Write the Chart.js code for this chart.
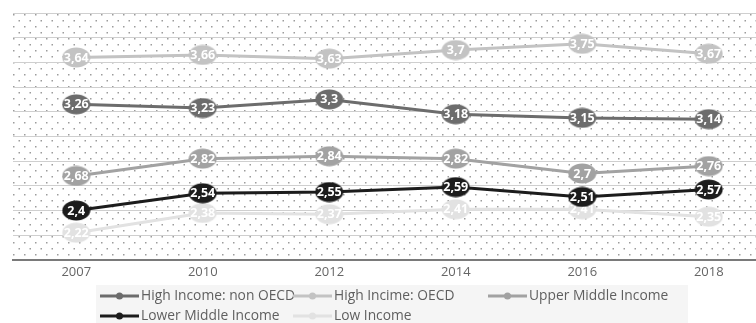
<!DOCTYPE html>
<html>
<head>
<meta charset="utf-8">
<script src="https://cdn.jsdelivr.net/npm/chart.js@4/dist/chart.umd.min.js"></script>
<style>
  html, body { margin: 0; padding: 0; background: #fff; overflow: hidden; }
  #wrap { width: 756px; height: 323px; overflow: hidden; position: relative; }
  canvas { display: block; width: 772px; height: 323px; }
</style>
</head>
<body>
<div id="wrap"><canvas id="c" width="772" height="323"></canvas></div>
<script>
// Survey years on the category axis
const years = ['2007', '2010', '2012', '2014', '2016', '2018'];

// Scores per income group
const highNonOecd = [3.26, 3.23, 3.3, 3.18, 3.15, 3.14];
const highOecd    = [3.64, 3.66, 3.63, 3.7, 3.75, 3.67];
const upperMiddle = [2.68, 2.82, 2.84, 2.82, 2.7, 2.76];
const lowerMiddle = [2.4, 2.54, 2.55, 2.59, 2.51, 2.57];
const lowIncome   = [2.22, 2.38, 2.37, 2.41, 2.41, 2.35];

const seriesNames = [
  'High Income: non OECD',
  'High Incime: OECD',
  'Upper Middle Income',
  'Lower Middle Income',
  'Low Income'
];

const FONT = '"Open Sans", "DejaVu Sans", sans-serif';

// Oval marker used for every point
function ovalMarker(color) {
  const w = 29, h = 21;
  const cv = document.createElement('canvas');
  cv.width = w; cv.height = h;
  const g = cv.getContext('2d');
  g.fillStyle = color;
  g.beginPath();
  g.ellipse(w / 2, h / 2, w / 2 - 0.5, h / 2 - 0.5, 0, 0, Math.PI * 2);
  g.fill();
  return cv;
}

// Dotted fill for the plot area
function dotPattern(ctx) {
  const cv = document.createElement('canvas');
  cv.width = 11; cv.height = 12;
  const g = cv.getContext('2d');
  g.fillStyle = '#ffffff';
  g.fillRect(0, 0, 11, 12);
  g.fillStyle = '#9c9c9c';
  g.fillRect(2, 2, 1.5, 1.5);
  g.fillRect(7.5, 8, 1.5, 1.5);
  return ctx.createPattern(cv, 'repeat');
}

function series(i, data, color) {
  return {
    label: seriesNames[i],
    data: data,
    borderColor: color,
    backgroundColor: color,
    borderWidth: 3,
    pointStyle: ovalMarker(color),
    pointRadius: 10,
    pointHoverRadius: 10,
    tension: 0
  };
}

const plotBackground = {
  id: 'plotBackground',
  beforeDraw(chart) {
    const { ctx, chartArea: a } = chart;
    ctx.save();
    ctx.fillStyle = '#ffffff';
    ctx.fillRect(0, 0, chart.width, chart.height);
    ctx.fillStyle = dotPattern(ctx);
    ctx.fillRect(a.left, a.top, a.right - a.left, a.bottom - a.top);
    ctx.restore();
  }
};

// Value written inside each oval, drawn right after its own series
const pointLabels = {
  id: 'pointLabels',
  afterDatasetDraw(chart, args) {
    const { ctx } = chart;
    const ds = chart.data.datasets[args.index];
    const meta = args.meta;
    ctx.save();
    ctx.font = 'bold 12.5px ' + FONT;
    ctx.fillStyle = '#ffffff';
    ctx.textAlign = 'center';
    ctx.textBaseline = 'middle';
    meta.data.forEach((pt, j) => {
      const txt = String(ds.data[j]).replace('.', ',');
      ctx.fillText(txt, pt.x, pt.y + 0.5);
    });
    ctx.restore();
  }
};

// Legend laid out in three columns inside a light panel
const gridLegend = {
  id: 'gridLegend',
  afterDraw(chart) {
    const { ctx } = chart;
    const cols = [100, 293, 488];
    const rows = [296, 316];
    ctx.save();
    ctx.fillStyle = '#f5f5f5';
    ctx.fillRect(96, 285, 592, 40);
    ctx.font = '13.8px ' + FONT;
    ctx.textBaseline = 'middle';
    ctx.textAlign = 'left';
    chart.data.datasets.forEach((ds, i) => {
      const x = cols[i % 3];
      const y = rows[Math.floor(i / 3)];
      ctx.strokeStyle = ds.borderColor;
      ctx.lineWidth = 3;
      ctx.beginPath();
      ctx.moveTo(x, y);
      ctx.lineTo(x + 39, y);
      ctx.stroke();
      ctx.fillStyle = ds.borderColor;
      ctx.beginPath();
      ctx.arc(x + 19.5, y, 3.5, 0, Math.PI * 2);
      ctx.fill();
      ctx.fillStyle = '#5f5f5f';
      ctx.fillText(ds.label, x + 41, y);
    });
    ctx.restore();
  }
};

new Chart(document.getElementById('c'), {
  type: 'line',
  data: {
    labels: years,
    datasets: [
      series(0, highNonOecd, '#6c6c6c'),
      series(1, highOecd, '#c3c3c3'),
      series(2, upperMiddle, '#a2a2a2'),
      series(3, lowerMiddle, '#1c1c1c'),
      series(4, lowIncome, '#e2e2e2')
    ]
  },
  options: {
    responsive: false,
    maintainAspectRatio: false,
    devicePixelRatio: 1,
    animation: false,
    // the plot area runs on past the visible right edge
    layout: { autoPadding: false, padding: { left: 13, top: 13, right: 0, bottom: 37.5 } },
    plugins: {
      legend: { display: false },
      tooltip: { enabled: false }
    },
    scales: {
      x: {
        offset: true,
        grid: { display: false, drawTicks: false },
        border: { display: true, color: '#7a7a7a', width: 2 },
        ticks: { color: '#666666', font: { family: FONT, size: 13 }, padding: 5 }
      },
      y: {
        min: 2,
        max: 4,
        ticks: { display: false, stepSize: 0.2 },
        grid: { color: '#cfcfcf', lineWidth: 1, drawTicks: false },
        border: { display: false }
      }
    }
  },
  plugins: [plotBackground, pointLabels, gridLegend]
});
</script>
</body>
</html>
